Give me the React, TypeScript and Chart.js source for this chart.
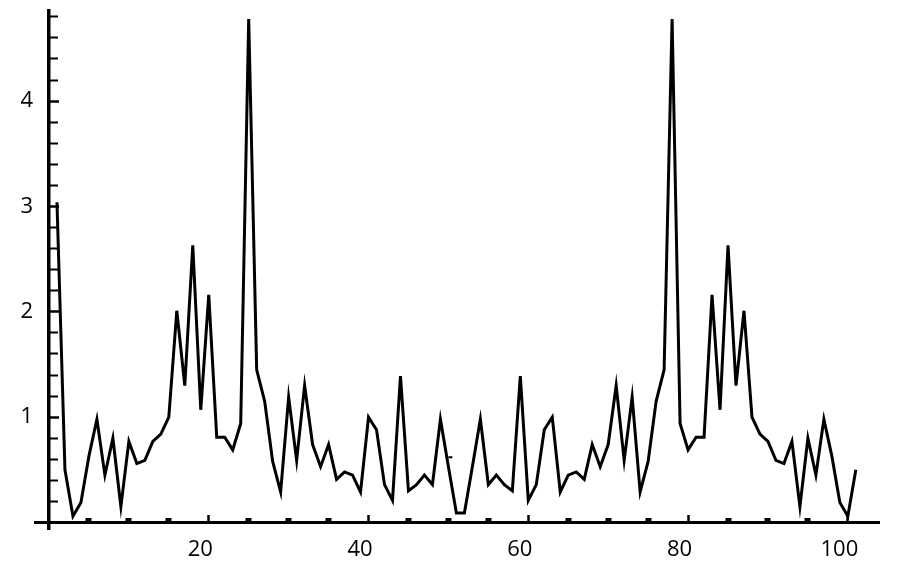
import { useEffect, useRef } from "react";
import { Chart, registerables } from "chart.js";

Chart.register(...registerables);

// Spectrum magnitudes for samples 1..101
const magnitudes = [
  3.04, 0.5, 0.06, 0.19, 0.63, 0.98, 0.45, 0.8, 0.15, 0.77,
  0.56, 0.59, 0.77, 0.84, 1.0, 2.01, 1.3, 2.63, 1.07, 2.16,
  0.81, 0.81, 0.69, 0.94, 4.78, 1.45, 1.15, 0.58, 0.29, 1.19,
  0.59, 1.3, 0.74, 0.53, 0.74, 0.41, 0.48, 0.45, 0.29, 1.0,
  0.88, 0.36, 0.21, 1.39, 0.3, 0.36, 0.45, 0.36, 0.98, 0.53,
  0.09, 0.09, 0.53, 0.98, 0.36, 0.45, 0.36, 0.3, 1.39, 0.21,
  0.36, 0.88, 1.0, 0.29, 0.45, 0.48, 0.41, 0.74, 0.53, 0.74,
  1.3, 0.59, 1.19, 0.29, 0.58, 1.15, 1.45, 4.78, 0.94, 0.69,
  0.81, 0.81, 2.16, 1.07, 2.63, 1.3, 2.01, 1.0, 0.84, 0.77,
  0.59, 0.56, 0.77, 0.15, 0.8, 0.45, 0.98, 0.63, 0.19, 0.06,
  0.5,
];
const sampleIndex = magnitudes.map((_, i) => i + 1);

// small stray dash seen near sample 50
const strayX = [50.25];
const strayY = [0.62];

const xMajorTicks = [20, 40, 60, 80, 100];
const xMinorTicks = [5, 10, 15, 25, 30, 35, 45, 50, 55, 65, 70, 75, 85, 90, 95];
const yMajorTicks = [1, 2, 3, 4];
const yMinorTicks = [
  0.2, 0.4, 0.6, 0.8, 1.2, 1.4, 1.6, 1.8, 2.2, 2.4, 2.6, 2.8,
  3.2, 3.4, 3.6, 3.8, 4.2, 4.4, 4.6, 4.8,
];
const yTickLabels = ["1", "2", "3", "4"];

const X_MIN = -1.7;
const X_MAX = 104;
const Y_MIN = -0.07;
const Y_MAX = 4.86;
const FONT = { family: "'Open Sans', 'Liberation Sans', sans-serif", size: 22 };

const setTicks = (vals: number[]) => (scale: any) => {
  scale.ticks = vals.map((v) => ({ value: v }));
};

export default function App() {
  const ref = useRef<HTMLCanvasElement | null>(null);

  useEffect(() => {
    if (!ref.current) return;
    const chart = new Chart(ref.current, {
      type: "line",
      data: {
        datasets: [
          {
            data: sampleIndex.map((x, i) => ({ x, y: magnitudes[i] })),
            borderColor: "#000",
            borderWidth: 3,
            pointRadius: 0,
            tension: 0,
            fill: false,
          },
          {
            data: strayX.map((x, i) => ({ x, y: strayY[i] })),
            showLine: false,
            pointStyle: "line",
            pointRadius: 2,
            borderColor: "#000",
            borderWidth: 2,
          },
        ],
      },
      options: {
        animation: false,
        responsive: false,
        parsing: false as any,
        layout: { padding: { left: 35.4, right: 20.2, top: 10.5, bottom: 38.1 } },
        plugins: { legend: { display: false }, tooltip: { enabled: false } },
        scales: {
          x: {
            type: "linear",
            position: { y: 0 } as any,
            min: X_MIN,
            max: X_MAX,
            afterBuildTicks: setTicks(xMajorTicks),
            ticks: {
              display: true,
              autoSkip: false,
              maxRotation: 0,
              padding: 23,
              labelOffset: -8.5,
              color: "#000",
              font: FONT,
              callback: (v: any) => String(v),
            },
            grid: {
              drawOnChartArea: false,
              drawTicks: true,
              tickLength: -9,
              tickWidth: 2.5,
              tickColor: "#000",
            },
            border: { display: true, color: "#000", width: 3 },
          },
          xMinor: {
            type: "linear",
            position: { y: 0 } as any,
            min: X_MIN,
            max: X_MAX,
            afterBuildTicks: setTicks(xMinorTicks),
            ticks: { display: false, autoSkip: false },
            grid: {
              drawOnChartArea: false,
              drawTicks: true,
              tickLength: -5,
              tickWidth: 6,
              tickColor: "#000",
            },
            border: { display: false },
          },
          y: {
            type: "linear",
            position: { x: 0 } as any,
            min: Y_MIN,
            max: Y_MAX,
            afterBuildTicks: setTicks(yMajorTicks),
            ticks: { display: false, autoSkip: false },
            grid: {
              drawOnChartArea: false,
              drawTicks: true,
              tickLength: -12,
              tickWidth: 2.5,
              tickColor: "#000",
            },
            border: { display: true, color: "#000", width: 3.5 },
          },
          yMinor: {
            type: "linear",
            position: { x: 0 } as any,
            min: Y_MIN,
            max: Y_MAX,
            afterBuildTicks: setTicks(yMinorTicks),
            ticks: { display: false, autoSkip: false },
            grid: {
              drawOnChartArea: false,
              drawTicks: true,
              tickLength: -9,
              tickWidth: 2,
              tickColor: "#000",
            },
            border: { display: false },
          },
          yLabels: {
            type: "linear",
            position: { x: -2.0 } as any,
            min: Y_MIN,
            max: Y_MAX,
            afterBuildTicks: setTicks(yMajorTicks),
            ticks: {
              display: true,
              autoSkip: false,
              padding: 0,
              color: "#000",
              font: { ...FONT, lineHeight: 0.8 },
              callback: (v: any) => yTickLabels[yMajorTicks.indexOf(Number(v))] ?? "",
            },
            grid: { display: false, drawTicks: false },
            border: { display: false },
          },
        } as any,
      },
    });
    return () => chart.destroy();
  }, []);

  return (
    <div style={{ position: "fixed", left: 0, top: 0, width: 900, height: 568, background: "#fff" }}>
      <canvas ref={ref} width={900} height={568} style={{ display: "block" }} />
    </div>
  );
}
